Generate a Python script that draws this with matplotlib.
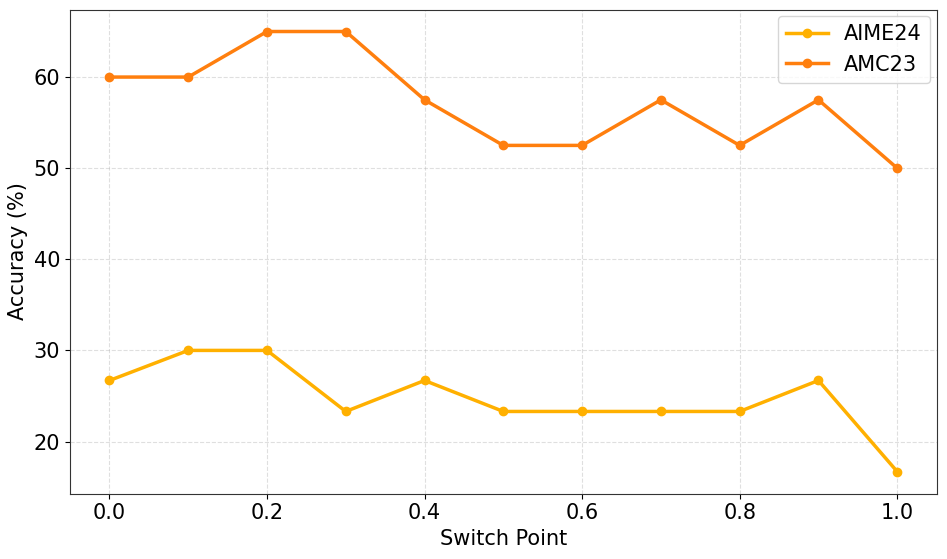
import matplotlib
matplotlib.use("Agg")
import matplotlib.pyplot as plt

switch_points = [0.0, 0.1, 0.2, 0.3, 0.4, 0.5, 0.6, 0.7, 0.8, 0.9, 1.0]
aime24 = [26.7, 30.0, 30.0, 23.3, 26.7, 23.3, 23.3, 23.3, 23.3, 26.7, 16.7]
amc23 = [60.0, 60.0, 65.0, 65.0, 57.5, 52.5, 52.5, 57.5, 52.5, 57.5, 50.0]

fig = plt.figure(figsize=(9.47, 5.59), dpi=100)
ax = fig.add_axes([0.074, 0.117, 0.915, 0.866])
ax.plot(switch_points, aime24, marker='o', color='#FFB000', linewidth=2.5, markersize=6, label='AIME24')
ax.plot(switch_points, amc23, marker='o', color='#FF7F0E', linewidth=2.5, markersize=6, label='AMC23')
ax.set_xlabel('Switch Point', fontsize=15)
ax.set_ylabel('Accuracy (%)', fontsize=15)
ax.tick_params(labelsize=15)
ax.grid(True, linestyle='--', alpha=0.4)
for s in ax.spines.values():
    s.set_color('#333333')
ax.legend(fontsize=15, loc='upper right', borderaxespad=0.3)
fig.savefig('out.png', dpi=100)
